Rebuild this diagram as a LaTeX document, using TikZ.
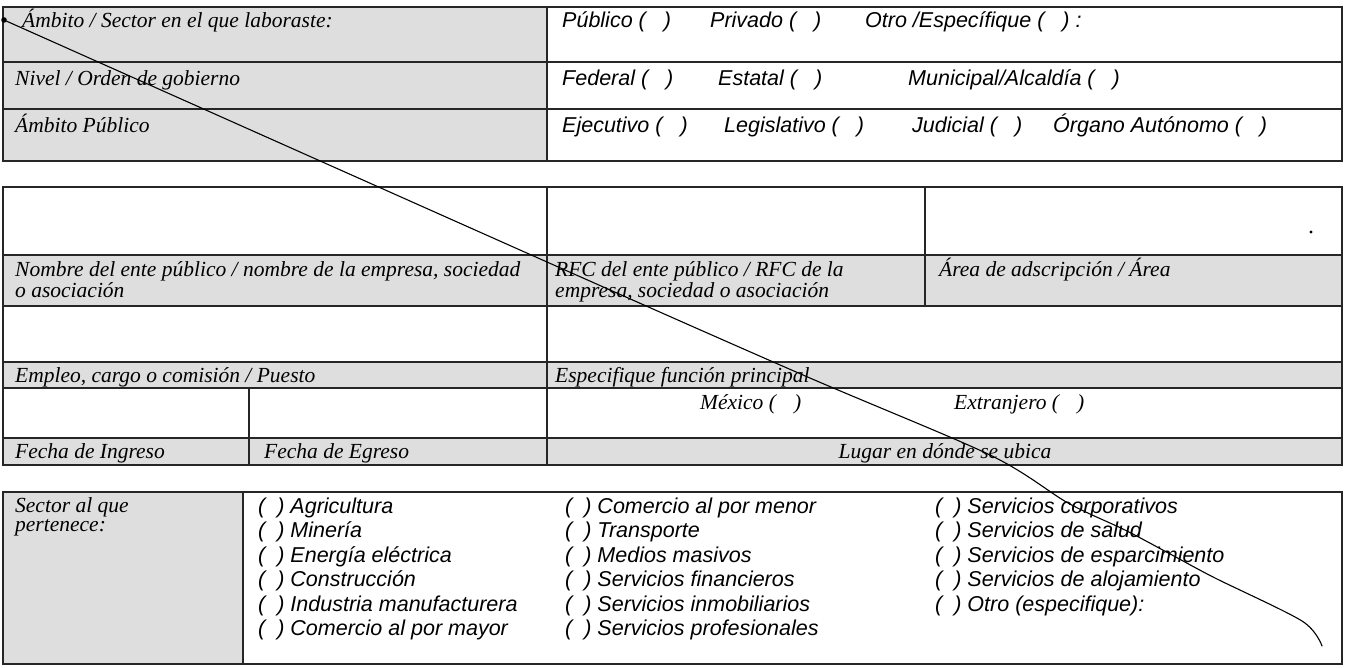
\documentclass[tikz,border=0pt]{standalone}
\usepackage{fontspec}
\setmainfont{Liberation Serif}
\newfontfamily\optfont{Liberation Sans}
\begin{document}
\begin{tikzpicture}[x=1pt,y=-1pt,
  lab/.style={font=\fontsize{21.5}{21}\selectfont\itshape, anchor=base west, inner sep=0pt},
  labc/.style={font=\fontsize{21.5}{21}\selectfont\itshape, anchor=base, inner sep=0pt},
  opt/.style={font=\optfont\fontsize{21.5}{24}\selectfont\itshape, anchor=base west, inner sep=0pt},
  shade/.style={fill=black!13},
  rule/.style={draw=black!85, line width=1.3pt},
  pen/.style={draw=black, line width=1.1pt, line cap=round, line join=round}]
\newcommand{\parw}{(\hspace{18pt})}
\newcommand{\parn}{(\hspace{12pt})}
% canvas
\fill[white] (0,0) rectangle (1347,667);
\useasboundingbox (0,0) rectangle (1347,667);
% ---------- table 1 ----------
\fill[shade] (3,7) rectangle (547,161);
\draw[rule] (3,7) rectangle (1342,161);
\draw[rule] (3,62) -- (1342,62);
\draw[rule] (3,109) -- (1342,109);
\draw[rule] (547,7) -- (547,161);
\node[lab] (amb) at (22,27) {Ámbito / Sector en el que laboraste:};
\node[lab] (niv) at (15,85) {Nivel / Orden de gobierno};
\node[lab] (ambp) at (15,132) {Ámbito Público};
\node[opt] (pub) at (562,27) {Público \parw};
\node[opt] (pri) at (710,27) {Privado \parw};
\node[opt] (otr) at (865,27) {Otro /Específique \parw\ :};
\node[opt] (fed) at (562,85) {Federal \parw};
\node[opt] (est) at (718,85) {Estatal \parw};
\node[opt] (mun) at (908,85) {Municipal/Alcaldía \parw};
\node[opt] (eje) at (562,132) {Ejecutivo \parw};
\node[opt] (leg) at (724,132) {Legislativo \parw};
\node[opt] (jud) at (912,132) {Judicial \parw};
\node[opt] (org) at (1053,132) {Órgano Autónomo \parw};
% ---------- table 2 ----------
\fill[shade] (3,255) rectangle (1342,306);
\fill[shade] (3,362) rectangle (1342,388);
\fill[shade] (3,438) rectangle (1342,465);
\draw[rule] (3,187) rectangle (1342,465);
\foreach \yy in {255,306,362,388,438} \draw[rule] (3,\yy) -- (1342,\yy);
\draw[rule] (547,187) -- (547,465);
\draw[rule] (925,187) -- (925,306);
\draw[rule] (249,388) -- (249,465);
\fill (1311,232) circle (1.6);
\node[lab] (nom1) at (15,276) {Nombre del ente público / nombre de la empresa, sociedad};
\node[lab] (nom2) at (15,297) {o asociación};
\node[lab] (rfc1) at (555,276) {RFC del ente público / RFC de la};
\node[lab] (rfc2) at (555,297) {empresa, sociedad o asociación};
\node[lab] (area) at (939,276) {Área de adscripción / Área};
\node[lab] (emp) at (15,382) {Empleo, cargo o comisión / Puesto};
\node[lab] (fun) at (555,382) {Especifique función principal};
\node[lab] (mex) at (700,409) {México \parw};
\node[lab] (ext) at (954,409) {Extranjero \parw};
\node[lab] (fing) at (15,458) {Fecha de Ingreso};
\node[lab] (fegr) at (264,458) {Fecha de Egreso};
\node[labc] (lug) at (945,458) {Lugar en dónde se ubica};
% ---------- table 3 ----------
\fill[shade] (3,492) rectangle (243,664);
\draw[rule] (3,492) rectangle (1342,664);
\draw[rule] (243,492) -- (243,664);
\node[lab] (sec1) at (15,512) {Sector al que};
\node[lab] (sec2) at (15,531) {pertenece:};
\node[opt] (a1) at (258,513) {\parn\ Agricultura};
\node[opt] (a2) at (258,537.5) {\parn\ Minería};
\node[opt] (a3) at (258,562) {\parn\ Energía eléctrica};
\node[opt] (a4) at (258,586.5) {\parn\ Construcción};
\node[opt] (a5) at (258,611) {\parn\ Industria manufacturera};
\node[opt] (a6) at (258,635.5) {\parn\ Comercio al por mayor};
\node[opt] (b1) at (565,513) {\parn\ Comercio al por menor};
\node[opt] (b2) at (565,537.5) {\parn\ Transporte};
\node[opt] (b3) at (565,562) {\parn\ Medios masivos};
\node[opt] (b4) at (565,586.5) {\parn\ Servicios financieros};
\node[opt] (b5) at (565,611) {\parn\ Servicios inmobiliarios};
\node[opt] (b6) at (565,635.5) {\parn\ Servicios profesionales};
\node[opt] (c1) at (935,513) {\parn\ Servicios corporativos};
\node[opt] (c2) at (935,537.5) {\parn\ Servicios de salud};
\node[opt] (c3) at (935,562) {\parn\ Servicios de esparcimiento};
\node[opt] (c4) at (935,586.5) {\parn\ Servicios de alojamiento};
\node[opt] (c5) at (935,611) {\parn\ Otro (especifique):};
% ---------- pen stroke ----------
\coordinate (p0) at (4,20);
\coordinate (p1) at (547,262);
\coordinate (p2) at (803,375);
\coordinate (p3) at (990,455);
\coordinate (p4) at (1068,503);
\coordinate (p5) at (1125,530);
\coordinate (p6) at (1172,555);
\coordinate (p7) at (1215,578);
\coordinate (p8) at (1302,621);
\coordinate (p9) at (1322,646);
\draw[pen] plot[smooth, tension=0.5] coordinates {(p0) (p1) (p2) (p3) (p4) (p5) (p6) (p7) (p8) (p9)};
\fill (p0) circle (2.8);
\end{tikzpicture}
\end{document}
